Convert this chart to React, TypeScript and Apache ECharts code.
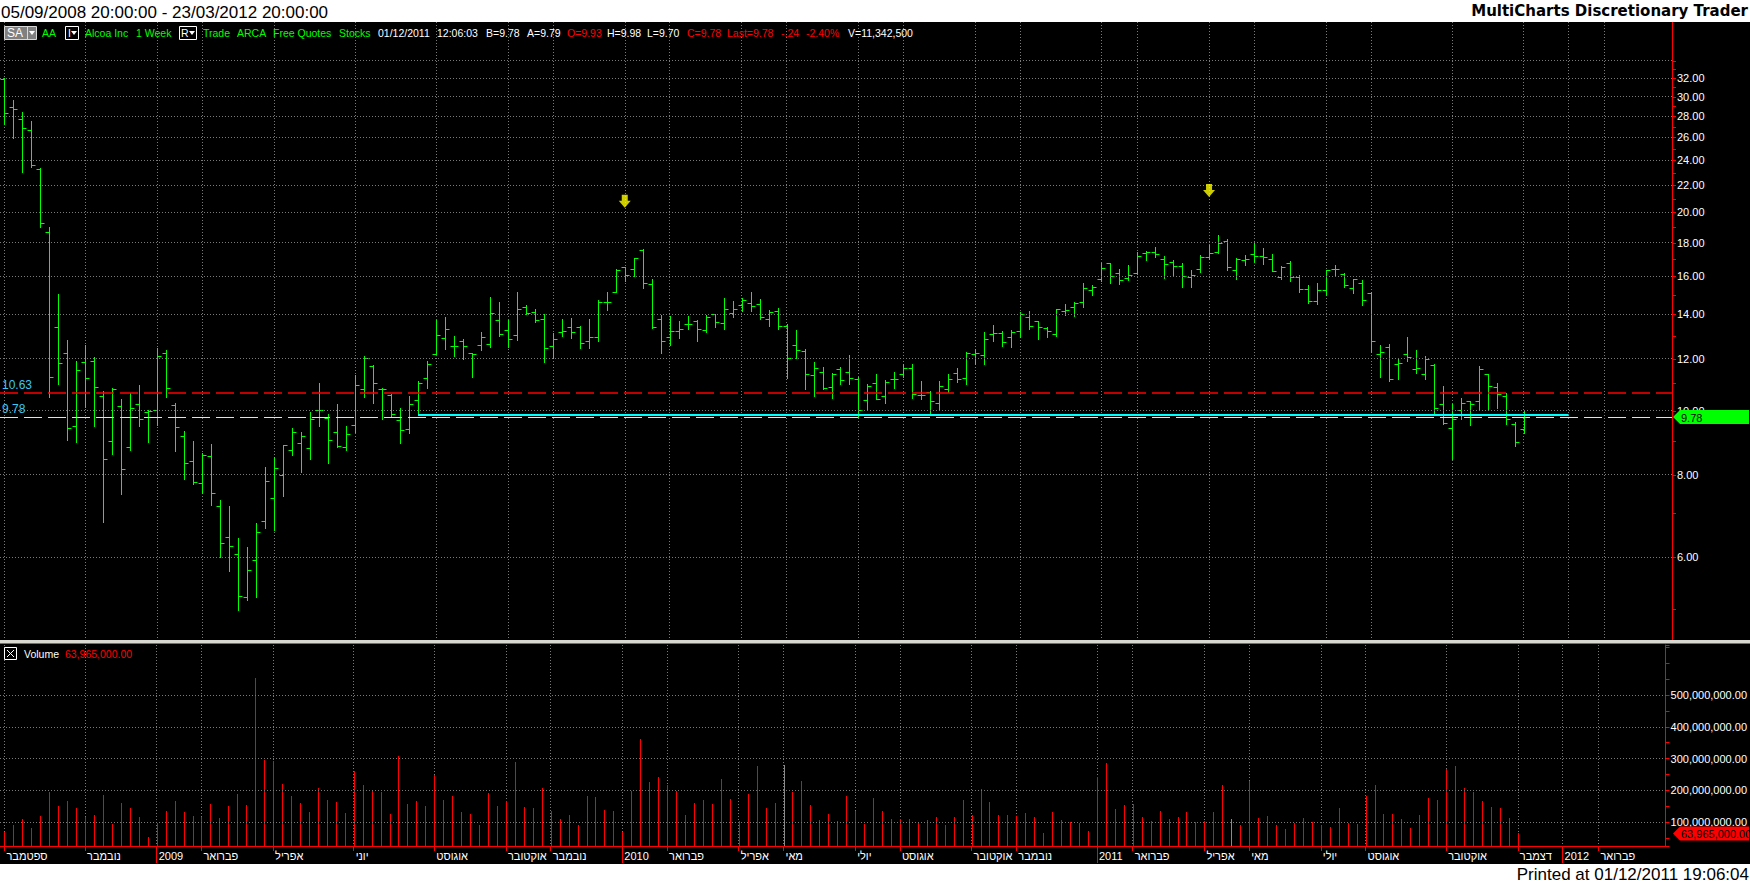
import React, { useEffect, useRef } from "react";
import * as echarts from "echarts";

// ---------- DATA ----------
const START_MS = Date.UTC(2008, 8, 5); // first weekly bar (05/09/2008)
const TOTAL_SLOTS = 186; // weekly slots up to 23/03/2012
const categories: string[] = Array.from({ length: TOTAL_SLOTS }, (_, i) => {
  const d = new Date(START_MS + i * 7 * 86400000);
  const dd = String(d.getUTCDate()).padStart(2, "0");
  const mm = String(d.getUTCMonth() + 1).padStart(2, "0");
  return `${dd}/${mm}/${d.getUTCFullYear()}`;
});

const opens = [
  31.9, 28.9, 27.73, 26.68, 23.25, 18.71, 13.38, 12.25, 9.47, 11.86,
  11.89, 10.53, 8.99, 10.18, 8.81, 10.23, 9.96, 10.02, 12.25, 10.21,
  9.16, 8.38, 7.77, 8.54, 7.17, 6.43, 6.06, 5.21, 5.93, 6.79,
  7.37, 7.98, 8.71, 8.92, 8.79, 10.02, 9.76, 9.28, 8.82, 9.51,
  10.78, 11.68, 10.78, 10.56, 9.67, 9.37, 10.37, 11.23, 12.18, 12.89,
  12.54, 12.74, 12.22, 12.57, 12.61, 13.73, 13.24, 13.01, 14.36, 14.12,
  13.78, 12.54, 13.15, 13.38, 13.39, 12.74, 12.94, 14.62, 15.12, 16.5,
  16.44, 17.52, 15.56, 13.76, 12.96, 13.2, 13.52, 13.68, 13.24, 14.02,
  13.57, 14.05, 14.47, 14.57, 14.5, 13.78, 14.15, 13.47, 12.57, 12.3,
  11.31, 11.43, 10.85, 11.56, 11.43, 11.19, 10.37, 11.0, 10.51, 11.16,
  11.35, 11.63, 10.55, 10.66, 10.29, 10.77, 11.39, 11.23, 12.18, 12.14,
  13.06, 13.14, 12.92, 13.2, 13.9, 13.67, 13.37, 13.06, 14.17, 14.35,
  14.6, 15.25, 15.83, 16.74, 16.18, 15.89, 16.18, 17.35, 17.41, 17.01,
  16.83, 16.56, 15.96, 16.39, 17.11, 17.39, 18.1, 16.33, 16.91, 17.29,
  17.15, 16.97, 15.94, 16.76, 15.96, 15.29, 14.67, 15.23, 16.39, 16.12,
  15.34, 15.61, 15.09, 12.18, 12.5, 11.76, 12.18, 11.56, 11.36, 11.74,
  10.22, 9.4, 10.01, 10.33, 10.33, 11.35, 10.85, 10.51, 9.54, 9.37,
];
const highs = [
  32.01, 29.63, 28.43, 27.56, 23.34, 18.99, 15.05, 12.81, 11.9, 12.59,
  12.07, 10.73, 10.84, 10.43, 10.62, 10.95, 10.02, 12.47, 12.37, 10.28,
  9.32, 9.0, 8.61, 8.91, 7.32, 7.17, 6.41, 6.21, 6.76, 8.22,
  8.51, 8.87, 9.41, 9.28, 9.96, 11.0, 9.88, 10.25, 9.47, 11.32,
  12.11, 11.73, 10.84, 10.6, 10.09, 10.52, 11.09, 11.9, 13.73, 13.87,
  12.98, 12.84, 12.22, 13.17, 14.88, 14.62, 13.73, 15.14, 14.47, 14.28,
  14.02, 13.12, 13.79, 13.83, 13.44, 13.78, 14.72, 15.12, 16.39, 16.52,
  17.03, 17.6, 15.85, 13.97, 13.92, 13.68, 13.92, 13.73, 13.97, 14.02,
  14.83, 14.67, 14.83, 15.14, 14.77, 14.22, 14.32, 13.52, 13.26, 12.39,
  11.84, 11.67, 11.39, 11.67, 12.15, 11.27, 10.97, 11.36, 11.12, 11.43,
  11.77, 11.77, 11.08, 10.71, 11.08, 11.36, 11.59, 12.28, 12.39, 13.17,
  13.49, 13.23, 13.27, 14.12, 14.17, 13.68, 13.4, 14.25, 14.52, 14.62,
  15.63, 15.52, 16.76, 16.76, 16.41, 16.64, 17.43, 17.48, 17.72, 17.19,
  16.93, 16.76, 16.35, 17.23, 17.85, 18.5, 18.23, 17.05, 17.23, 17.97,
  17.66, 17.29, 16.58, 16.87, 16.07, 15.52, 15.63, 16.37, 16.64, 16.18,
  15.85, 15.79, 15.12, 12.58, 12.62, 12.01, 12.94, 12.36, 12.1, 11.77,
  10.9, 10.24, 10.45, 10.34, 11.69, 11.36, 11.01, 10.63, 9.61, 9.98,
];
const lows = [
  27.21, 25.92, 23.08, 23.43, 18.99, 10.5, 10.96, 9.04, 8.97, 10.14,
  9.49, 6.78, 8.59, 7.46, 8.73, 9.47, 8.95, 9.51, 10.5, 8.7,
  7.88, 7.73, 7.51, 7.2, 5.99, 5.7, 4.98, 5.15, 5.22, 6.63,
  6.59, 7.43, 8.55, 8.08, 8.46, 9.49, 8.32, 8.82, 8.71, 9.29,
  10.5, 10.26, 9.7, 9.83, 8.94, 9.26, 9.87, 10.83, 12.18, 12.4,
  12.12, 12.0, 11.26, 12.38, 12.51, 13.0, 12.51, 12.82, 14.0, 13.65,
  11.87, 12.04, 13.0, 12.91, 12.47, 12.47, 12.77, 14.23, 15.12, 15.73,
  16.03, 15.38, 13.33, 12.25, 12.58, 12.91, 13.32, 12.77, 13.18, 13.41,
  13.32, 13.87, 14.17, 14.17, 13.78, 13.44, 13.32, 11.22, 12.04, 10.8,
  10.54, 10.8, 10.47, 10.99, 10.99, 9.77, 10.07, 10.4, 10.28, 10.83,
  11.27, 10.47, 10.41, 9.87, 10.07, 10.69, 11.07, 10.99, 11.79, 11.79,
  12.77, 12.55, 12.51, 12.95, 13.32, 12.86, 12.95, 13.0, 13.97, 13.94,
  14.36, 14.98, 15.73, 15.63, 15.59, 15.79, 16.14, 16.95, 17.11, 15.92,
  16.07, 15.42, 15.42, 16.24, 17.01, 17.35, 16.35, 15.85, 16.64, 16.81,
  16.7, 16.27, 15.83, 15.73, 15.14, 14.57, 14.52, 14.98, 16.07, 15.4,
  15.11, 14.47, 12.28, 11.25, 11.11, 11.16, 11.9, 11.41, 11.16, 9.93,
  9.56, 8.45, 9.73, 9.52, 10.06, 10.01, 10.11, 9.56, 8.85, 9.25,
];
const closes = [
  28.36, 28.68, 26.88, 23.57, 19.28, 11.25, 11.83, 9.41, 11.52, 11.21,
  10.86, 8.44, 10.8, 8.15, 10.11, 9.71, 9.99, 12.11, 10.84, 9.45,
  8.34, 7.79, 8.55, 7.51, 6.3, 6.23, 5.23, 5.72, 6.54, 7.82,
  8.18, 8.86, 9.29, 9.16, 9.71, 10.02, 9.02, 8.85, 9.22, 10.93,
  12.02, 11.03, 10.77, 9.88, 9.34, 10.22, 11.0, 11.76, 13.01, 13.3,
  12.55, 12.55, 12.18, 12.95, 14.05, 13.06, 12.83, 14.25, 14.05, 13.71,
  12.44, 12.87, 13.2, 13.15, 12.65, 12.96, 14.62, 14.62, 16.35, 16.1,
  17.03, 15.63, 13.38, 12.74, 13.2, 13.3, 13.52, 13.3, 13.87, 13.62,
  14.27, 14.27, 14.75, 14.4, 13.9, 14.12, 13.44, 12.01, 12.35, 11.36,
  11.63, 10.83, 11.36, 11.12, 11.23, 10.01, 10.92, 10.4, 11.04, 11.16,
  11.59, 10.6, 10.55, 10.33, 10.89, 11.16, 11.16, 12.24, 12.22, 12.87,
  13.14, 12.7, 13.15, 14.0, 13.47, 13.38, 13.2, 14.25, 14.23, 14.57,
  15.34, 15.39, 16.46, 16.02, 15.77, 16.1, 17.15, 17.39, 17.29, 16.68,
  16.58, 16.04, 16.1, 17.11, 17.37, 17.95, 16.5, 16.99, 16.97, 17.15,
  17.09, 16.27, 16.5, 15.94, 15.29, 14.7, 15.25, 16.33, 16.39, 15.5,
  15.83, 14.72, 12.78, 12.27, 11.18, 11.83, 12.07, 11.59, 11.97, 10.08,
  9.57, 9.7, 10.26, 10.22, 11.56, 10.92, 10.6, 9.7, 8.95, 9.78,
];
// weekly volume, millions of shares
const volumesM = [
  70, 89, 110, 82, 120, 195, 151, 167, 145, 117,
  123, 185, 95, 160, 145, 117, 54, 98, 135, 167,
  132, 120, 117, 157, 114, 151, 189, 154, 554, 295,
  292, 220, 182, 160, 132, 207, 170, 164, 129, 260,
  217, 201, 195, 126, 307, 157, 167, 151, 248, 170,
  182, 132, 126, 92, 192, 151, 167, 289, 148, 145,
  207, 135, 110, 123, 89, 182, 179, 139, 135, 70,
  198, 360, 226, 242, 217, 198, 123, 160, 170, 157,
  235, 173, 104, 189, 276, 145, 160, 279, 195, 229,
  154, 107, 126, 104, 182, 135, 95, 176, 135, 110,
  110, 110, 101, 107, 117, 89, 117, 170, 123, 204,
  164, 123, 123, 120, 129, 117, 64, 132, 107, 101,
  98, 73, 242, 285, 142, 154, 157, 117, 104, 135,
  110, 117, 132, 101, 104, 132, 217, 110, 92, 229,
  114, 120, 92, 79, 98, 114, 101, 92, 85, 145,
  98, 95, 182, 217, 126, 126, 110, 82, 123, 176,
  170, 267, 276, 207, 195, 167, 148, 145, 114, 63.965,
];
const greyVolumeBars = [87, 137];

// x-axis month / year labels: [slot index, label]
const monthTicks: [number, string][] = [
  [0, "ספטמבר"], [9, "נובמבר"], [17, "2009"], [22, "פברואר"], [30, "אפריל"],
  [39, "יוני"], [48, "אוגוסט"], [56, "אוקטובר"], [61, "נובמבר"], [69, "2010"],
  [74, "פברואר"], [82, "אפריל"], [87, "מאי"], [95, "יולי"], [100, "אוגוסט"],
  [108, "אוקטובר"], [113, "נובמבר"], [122, "2011"], [126, "פברואר"], [134, "אפריל"],
  [139, "מאי"], [147, "יולי"], [152, "אוגוסט"], [161, "אוקטובר"], [169, "דצמבר"],
  [174, "2012"], [178, "פברואר"],
];
const yearTickIdx = [17, 69, 122, 174];

// price axis
const PRICE_MIN = 4.485;
const PRICE_MAX = 38.93;
const priceGridValues = [34, 32, 30, 28, 26, 24, 22, 20, 18, 16, 14, 12, 10, 8, 6];
const priceLabelValues = [32, 30, 28, 26, 24, 22, 20, 18, 16, 14, 12, 10, 8, 6];
const priceAxisTicks = [5, 6, 7, 8, 9, 10, 11, 12, 13, 14, 15, 16, 17, 18, 19, 20, 21, 22, 23, 24, 25, 26, 27, 28, 29, 30, 31, 32, 33, 34];

// volume axis
const VOL_MIN = 24.4e6;
const VOL_MAX = 657.5e6;
const volumeGridValues = [100e6, 200e6, 300e6, 400e6, 500e6];

// levels & marks
const resistanceLevel = 10.63;
const lastPrice = 9.78;
const trendLine = { from: 46, to: 174, value: 9.85 };
const arrowMarks: [number, number][] = [[69, 20.8], [134, 21.6]];

// ---------- HELPERS ----------
const FONT = '"Liberation Sans", Arial, sans-serif';
const labelMap = new Map<number, string>(monthTicks);
const fmtVol = (v: number) =>
  v.toLocaleString("en-US", { minimumFractionDigits: 2, maximumFractionDigits: 2 });

const renderOHLC = (params: any, api: any) => {
  const i = api.value(0);
  const pO = api.coord([i, api.value(1)]);
  const pH = api.coord([i, api.value(2)]);
  const pL = api.coord([i, api.value(3)]);
  const pC = api.coord([i, api.value(4)]);
  const x = Math.round(pH[0]) + 0.5;
  const yo = Math.round(pO[1]) + 0.5;
  const yc = Math.round(pC[1]) + 0.5;
  const style = { stroke: "#00ff00", lineWidth: 1 };
  return {
    type: "group",
    children: [
      { type: "line", shape: { x1: x, y1: Math.round(pH[1]), x2: x, y2: Math.round(pL[1]) + 1 }, style },
      { type: "line", shape: { x1: x - 4, y1: yo, x2: x, y2: yo }, style },
      { type: "line", shape: { x1: x, y1: yc, x2: x + 4, y2: yc }, style },
    ],
  };
};

const renderVolume = (params: any, api: any) => {
  const i = api.value(0);
  const p = api.coord([i, api.value(1)]);
  const base = params.coordSys.y + params.coordSys.height;
  const x = Math.round(p[0]) + 0.5;
  const color = greyVolumeBars.includes(i) ? "#8a8a8a" : "#ff0000";
  return {
    type: "line",
    shape: { x1: x, y1: base, x2: x, y2: Math.round(p[1]) },
    style: { stroke: color, lineWidth: 1 },
  };
};

const renderPriceTick = (params: any, api: any) => {
  const p = api.coord([0, api.value(1)]);
  const x = params.coordSys.x + params.coordSys.width;
  const y = Math.round(p[1]) + 0.5;
  return {
    type: "line",
    shape: { x1: x, y1: y, x2: x + 4, y2: y },
    style: { stroke: "#ff0000", lineWidth: 1 },
  };
};

const isMonth = (i: number) => labelMap.has(i);
const gridDots = { color: "#7a7a7a", type: [1, 2], width: 1 };

function buildOption(): any {
  const ohlcData = opens.map((o, i) => [i, o, highs[i], lows[i], closes[i]]);
  const volData = volumesM.map((v, i) => [i, v * 1e6]);
  const lvlLabel = {
    show: true,
    position: "insideStartTop",
    distance: 2,
    color: "#3cc8f0",
    fontSize: 12,
    fontFamily: FONT,
    formatter: (p: any) => Number(p.value).toFixed(2),
  };
  return {
    animation: false,
    backgroundColor: "#000000",
    textStyle: { fontFamily: FONT },
    grid: [
      { left: 0, top: 22, width: 1672, height: 618 },
      { left: 0, top: 645, width: 1672, height: 201 },
    ],
    xAxis: [
      {
        type: "category", gridIndex: 0, data: categories, boundaryGap: true,
        axisLine: { show: false }, axisTick: { show: false }, axisLabel: { show: false },
        splitLine: { show: true, interval: (i: number) => isMonth(i), alignWithLabel: true, lineStyle: gridDots },
      },
      {
        type: "category", gridIndex: 1, data: categories, boundaryGap: true, position: "bottom",
        axisLine: { show: true, lineStyle: { color: "#ff0000", width: 1 } },
        axisTick: { show: true, alignWithLabel: true, interval: (i: number) => isMonth(i), length: 5, lineStyle: { color: "#ff0000" } },
        axisLabel: {
          show: true, interval: (i: number) => isMonth(i),
          formatter: (_v: string, i: number) => labelMap.get(i) || "",
          color: "#ffffff", fontSize: 11, fontFamily: FONT, align: "left", margin: 4, padding: [0, 0, 0, 2],
        },
        splitLine: { show: true, interval: (i: number) => isMonth(i), alignWithLabel: true, lineStyle: gridDots },
      },
      {
        type: "category", gridIndex: 1, data: categories, boundaryGap: true, position: "bottom", offset: 0,
        axisLine: { show: false },
        axisTick: { show: true, alignWithLabel: true, interval: (i: number) => yearTickIdx.includes(i), length: 17, lineStyle: { color: "#ff0000" } },
        axisLabel: { show: false }, splitLine: { show: false },
      },
    ],
    yAxis: [
      {
        type: "log", logBase: 10, gridIndex: 0, min: PRICE_MIN, max: PRICE_MAX, position: "right",
        axisLine: { show: true, lineStyle: { color: "#ff0000", width: 1 } },
        axisTick: { show: false }, axisLabel: { show: false }, splitLine: { show: false },
      },
      {
        type: "value", gridIndex: 1, min: VOL_MIN, max: VOL_MAX, position: "right",
        axisLine: { show: true, lineStyle: { color: "#ff0000", width: 1 } },
        axisTick: { show: true, length: 4, lineStyle: { color: "#ff0000" } },
        minorTick: { show: true, splitNumber: 2, length: 4, lineStyle: { color: "#ff0000" } },
        axisLabel: {
          show: true, color: "#ffffff", fontSize: 11, fontFamily: FONT, margin: 5,
          showMinLabel: false, showMaxLabel: false,
          formatter: (v: number) => (volumeGridValues.some((g) => Math.abs(g - v) < 1) ? fmtVol(v) : ""),
        },
        splitLine: { show: false },
      },
    ],
    series: [
      {
        type: "custom", name: "ticks", xAxisIndex: 0, yAxisIndex: 0, clip: false, z: 1, silent: true,
        data: priceAxisTicks.map((v) => [0, v]),
        encode: { x: 0, y: 1 },
        renderItem: renderPriceTick,
        markLine: {
          silent: true, symbol: ["none", "none"], animation: false,
          lineStyle: gridDots,
          label: {
            show: true, position: "end", distance: 5, color: "#ffffff", fontSize: 11, fontFamily: FONT,
            formatter: (p: any) => Number(p.value).toFixed(2),
          },
          data: priceGridValues.map((v) => ({ yAxis: v, label: { show: priceLabelValues.includes(v) } })),
        },
      },
      {
        type: "custom", name: "AA", xAxisIndex: 0, yAxisIndex: 0, z: 3, silent: true,
        data: ohlcData,
        encode: { x: 0, y: [1, 2, 3, 4] },
        renderItem: renderOHLC,
        markLine: {
          silent: true, symbol: ["none", "none"], animation: false,
          data: [
            { yAxis: resistanceLevel, lineStyle: { color: "#ff0000", type: [18, 6], width: 1.5 }, label: lvlLabel },
            { yAxis: lastPrice, lineStyle: { color: "#ffff00", type: [18, 6], width: 1 }, label: lvlLabel },
            [
              { coord: [trendLine.from, trendLine.value], lineStyle: { color: "#00ffff", type: "solid", width: 2 }, label: { show: false } },
              { coord: [trendLine.to, trendLine.value] },
            ],
          ],
        },
      },
      {
        type: "scatter", name: "arrows", xAxisIndex: 0, yAxisIndex: 0, z: 5, silent: true,
        data: arrowMarks,
        symbol: "path://M3,0 L9,0 L9,6 L12,6 L6,13 L0,6 L3,6 Z",
        symbolSize: [12, 13],
        itemStyle: { color: "#ffff00" },
      },
      {
        type: "custom", name: "Volume", xAxisIndex: 1, yAxisIndex: 1, z: 3, silent: true,
        data: volData,
        encode: { x: 0, y: 1 },
        renderItem: renderVolume,
        markLine: {
          silent: true, symbol: ["none", "none"], animation: false,
          lineStyle: gridDots, label: { show: false },
          data: volumeGridValues.map((v) => ({ yAxis: v })),
        },
      },
    ],
  };
}

const txt = (x: number, y: number, text: string, fill: string, size = 10.5, extra: any = {}, z = 20) => ({
  type: "text",
  x, y, z,
  style: {
    text, fill,
    font: `${size}px ${FONT}`,
    align: "left", verticalAlign: "middle",
    ...extra,
  },
});

function staticGraphics(): any[] {
  const G = "#00ff00", W = "#ffffff", R = "#ff0000";
  const sy = 33;
  return [
    { type: "rect", z: 15, shape: { x: 0, y: 0, width: 1750, height: 22 }, style: { fill: "#ffffff" } },
    { type: "rect", z: 15, shape: { x: 0, y: 864, width: 1750, height: 20 }, style: { fill: "#ffffff" } },
    txt(1, 12, "05/09/2008 20:00:00 - 23/03/2012 20:00:00", "#000000", 17),
    {
      type: "text", z: 20, x: 1748, y: 11,
      style: { text: "MultiCharts Discretionary Trader", fill: "#000000", font: 'bold 15px "DejaVu Sans", Verdana, sans-serif', align: "right", verticalAlign: "middle" },
    },
    txt(1749, 874, "Printed at 01/12/2011 19:06:04", "#000000", 17, { align: "right" }),
    // status line
    { type: "rect", z: 18, shape: { x: 4.5, y: 26.5, width: 32, height: 13 }, style: { fill: "#808080", stroke: "#d8d8d8", lineWidth: 1 } },
    { type: "line", z: 19, shape: { x1: 27.5, y1: 27, x2: 27.5, y2: 39 }, style: { stroke: "#d8d8d8", lineWidth: 1 } },
    txt(7, sy, "SA", W, 12),
    { type: "polygon", z: 19, shape: { points: [[29, 31], [35, 31], [32, 35]] }, style: { fill: W } },
    txt(42, sy, "AA", G),
    { type: "rect", z: 18, shape: { x: 65.5, y: 26.5, width: 13, height: 13 }, style: { fill: "#000000", stroke: W, lineWidth: 1 } },
    txt(68, sy, "I", W),
    { type: "polygon", z: 19, shape: { points: [[71, 31], [77, 31], [74, 35]] }, style: { fill: W } },
    txt(85, sy, "Alcoa Inc", G),
    txt(136, sy, "1 Week", G),
    { type: "rect", z: 18, shape: { x: 179.5, y: 26.5, width: 17, height: 13 }, style: { fill: "#000000", stroke: W, lineWidth: 1 } },
    txt(181, sy, "R", W),
    { type: "polygon", z: 19, shape: { points: [[189, 31], [195, 31], [192, 35]] }, style: { fill: W } },
    txt(203, sy, "Trade", G),
    txt(237, sy, "ARCA", G),
    txt(273, sy, "Free Quotes", G),
    txt(339, sy, "Stocks", G),
    txt(378, sy, "01/12/2011", W),
    txt(437, sy, "12:06:03", W),
    txt(486, sy, "B=9.78", W),
    txt(527, sy, "A=9.79", W),
    txt(567, sy, "O=9.93", R),
    txt(607, sy, "H=9.98", W),
    txt(647, sy, "L=9.70", W),
    txt(687, sy, "C=9.78", R),
    txt(727, sy, "Last=9.78", R),
    txt(781, sy, "-.24", R),
    txt(806, sy, "-2.40%", R),
    txt(848, sy, "V=11,342,500", W),
    // pane separator
    { type: "rect", z: 18, shape: { x: 0, y: 640, width: 1750, height: 3 }, style: { fill: "#d8d8d0" } },
    { type: "line", z: 18, shape: { x1: 0, y1: 643.5, x2: 1750, y2: 643.5 }, style: { stroke: "#707070", lineWidth: 1 } },
    // volume header
    { type: "rect", z: 18, shape: { x: 4.5, y: 647.5, width: 12, height: 12 }, style: { fill: "#000000", stroke: W, lineWidth: 1 } },
    { type: "line", z: 19, shape: { x1: 7, y1: 650, x2: 14, y2: 657 }, style: { stroke: W, lineWidth: 1 } },
    { type: "line", z: 19, shape: { x1: 14, y1: 650, x2: 7, y2: 657 }, style: { stroke: W, lineWidth: 1 } },
    txt(24, 653.5, "Volume", W),
    txt(65, 653.5, fmtVol(volumesM[volumesM.length - 1] * 1e6), R),
  ];
}

function tagGraphics(yP: number, yV: number): any[] {
  const tag = (y: number, fill: string, text: string) => [
    {
      type: "polygon", z: 22,
      shape: { points: [[1673, y], [1680, y - 7], [1749, y - 7], [1749, y + 7], [1680, y + 7]] },
      style: { fill },
    },
    txt(1681, y + 0.5, text, "#000000", 11, {}, 24),
  ];
  return [
    ...tag(yP, "#00ff00", lastPrice.toFixed(2)),
    ...tag(yV, "#ff0000", fmtVol(volumesM[volumesM.length - 1] * 1e6)),
  ];
}

export default function App() {
  const ref = useRef<HTMLDivElement>(null);
  useEffect(() => {
    if (!ref.current) return;
    const chart = echarts.init(ref.current, null, { renderer: "svg" });
    chart.setOption(buildOption());
    const yP = chart.convertToPixel({ yAxisIndex: 0 } as any, lastPrice) as unknown as number;
    const yV = chart.convertToPixel({ yAxisIndex: 1 } as any, volumesM[volumesM.length - 1] * 1e6) as unknown as number;
    chart.setOption({ graphic: { elements: [...staticGraphics(), ...tagGraphics(yP, yV)] } });
    return () => chart.dispose();
  }, []);
  return (
    <div
      ref={ref}
      style={{ position: "absolute", left: 0, top: 0, width: 1750, height: 884 }}
    />
  );
}
